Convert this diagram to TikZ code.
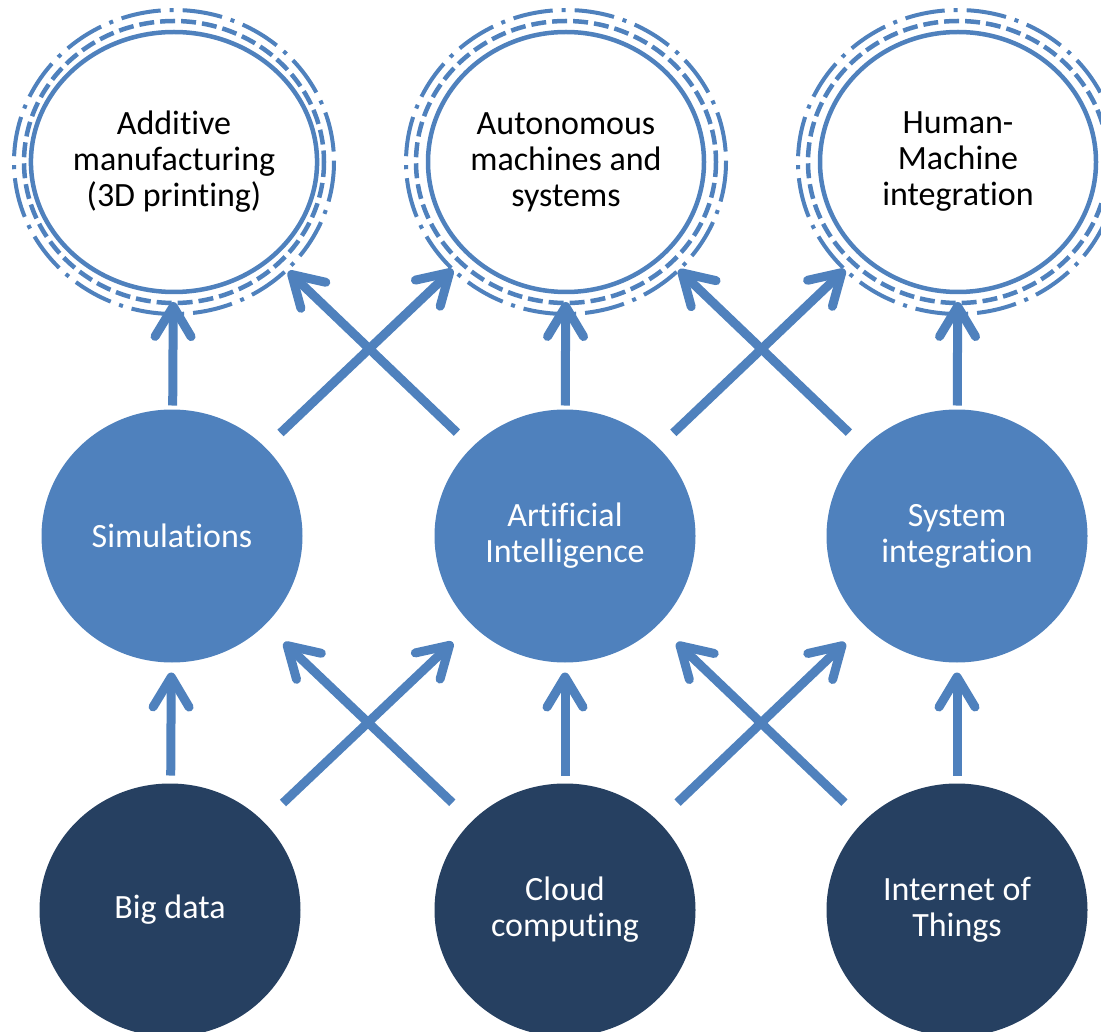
\documentclass[tikz,border=0pt]{standalone}
\usepackage{fontspec}
\setmainfont[Ligatures=NoCommon]{Carlito}
\usetikzlibrary{shapes.geometric,arrows.meta}

\definecolor{MidBlue}{RGB}{79,129,189}
\definecolor{DarkBlue}{RGB}{38,64,97}

\begin{document}
\begin{tikzpicture}[
    x=1pt, y=-1pt,
    goal/.style={ellipse, draw=MidBlue, line width=4.5pt, fill=white, minimum width=276pt, minimum height=260pt, inner sep=0pt, outer sep=0pt, align=center, font=\fontsize{34}{36}\selectfont},
    tech/.style={ellipse, fill=MidBlue, text=white, minimum width=261pt, minimum height=253pt, inner sep=0pt, outer sep=0pt, align=center, font=\fontsize{34}{36}\selectfont},
    base/.style={tech, fill=DarkBlue},
    ringdash/.style={draw=MidBlue, line width=4.5pt, dash pattern=on 15pt off 6pt},
    ringdot/.style={draw=MidBlue, line width=4pt, dash pattern=on 40pt off 9pt on 4pt off 9pt},
    flow/.style={draw=MidBlue, line width=9pt, -{Straight Barb[length=30pt, width=36pt, round]}}
  ]
    \useasboundingbox (0,0) rectangle (1101,1032);

    % Ziele (oben)
    \node[goal] (addmfg) at (174,162) {Additive\\manufacturing\\(3D printing)};
    \node[goal] (autosys) at (566,162) {Autonomous\\machines and\\systems};
    \node[goal] (hmi) at (958,162) {Human-\\Machine\\integration};
    \draw[ringdash] (addmfg.center) ellipse [x radius=150, y radius=141];
    \draw[ringdash] (autosys.center) ellipse [x radius=150, y radius=141];
    \draw[ringdash] (hmi.center) ellipse [x radius=150, y radius=141];
    \draw[ringdot] (addmfg.center) ellipse [x radius=160, y radius=152];
    \draw[ringdot] (autosys.center) ellipse [x radius=160, y radius=152];
    \draw[ringdot] (hmi.center) ellipse [x radius=160, y radius=152];

    % Technologien (Mitte)
    \node[tech] (sim) at (172,536) {Simulations};
    \node[tech] (ai) at (565,536) {Artificial\\Intelligence};
    \node[tech] (sysint) at (957,536) {System\\integration};

    % Grundlagen (unten)
    \node[base] (bigdata) at (170,910) {Big data};
    \node[base] (cloud) at (565,910) {Cloud\\computing};
    \node[base] (iot) at (957,910) {Internet of\\Things};

    % Pfeile Mitte -> oben
    \draw[flow, shorten <=4pt, shorten >=10pt] (sim) -- (addmfg);
    \draw[flow, shorten <=4pt, shorten >=10pt] (ai) -- (autosys);
    \draw[flow, shorten <=4pt, shorten >=10pt] (sysint) -- (hmi);
    \draw[flow, shorten <=21pt, shorten >=22pt] (sim) -- (autosys);
    \draw[flow, shorten <=21pt, shorten >=22pt] (ai) -- (addmfg);
    \draw[flow, shorten <=21pt, shorten >=22pt] (ai) -- (hmi);
    \draw[flow, shorten <=21pt, shorten >=22pt] (sysint) -- (autosys);

    % Pfeile unten -> Mitte
    \draw[flow, shorten <=8pt, shorten >=10pt] (bigdata) -- (sim);
    \draw[flow, shorten <=8pt, shorten >=10pt] (cloud) -- (ai);
    \draw[flow, shorten <=8pt, shorten >=10pt] (iot) -- (sysint);
    \draw[flow, shorten <=27pt, shorten >=26pt] (bigdata) -- (ai);
    \draw[flow, shorten <=27pt, shorten >=26pt] (cloud) -- (sim);
    \draw[flow, shorten <=27pt, shorten >=26pt] (cloud) -- (sysint);
    \draw[flow, shorten <=27pt, shorten >=26pt] (iot) -- (ai);
  \end{tikzpicture}
\end{document}
